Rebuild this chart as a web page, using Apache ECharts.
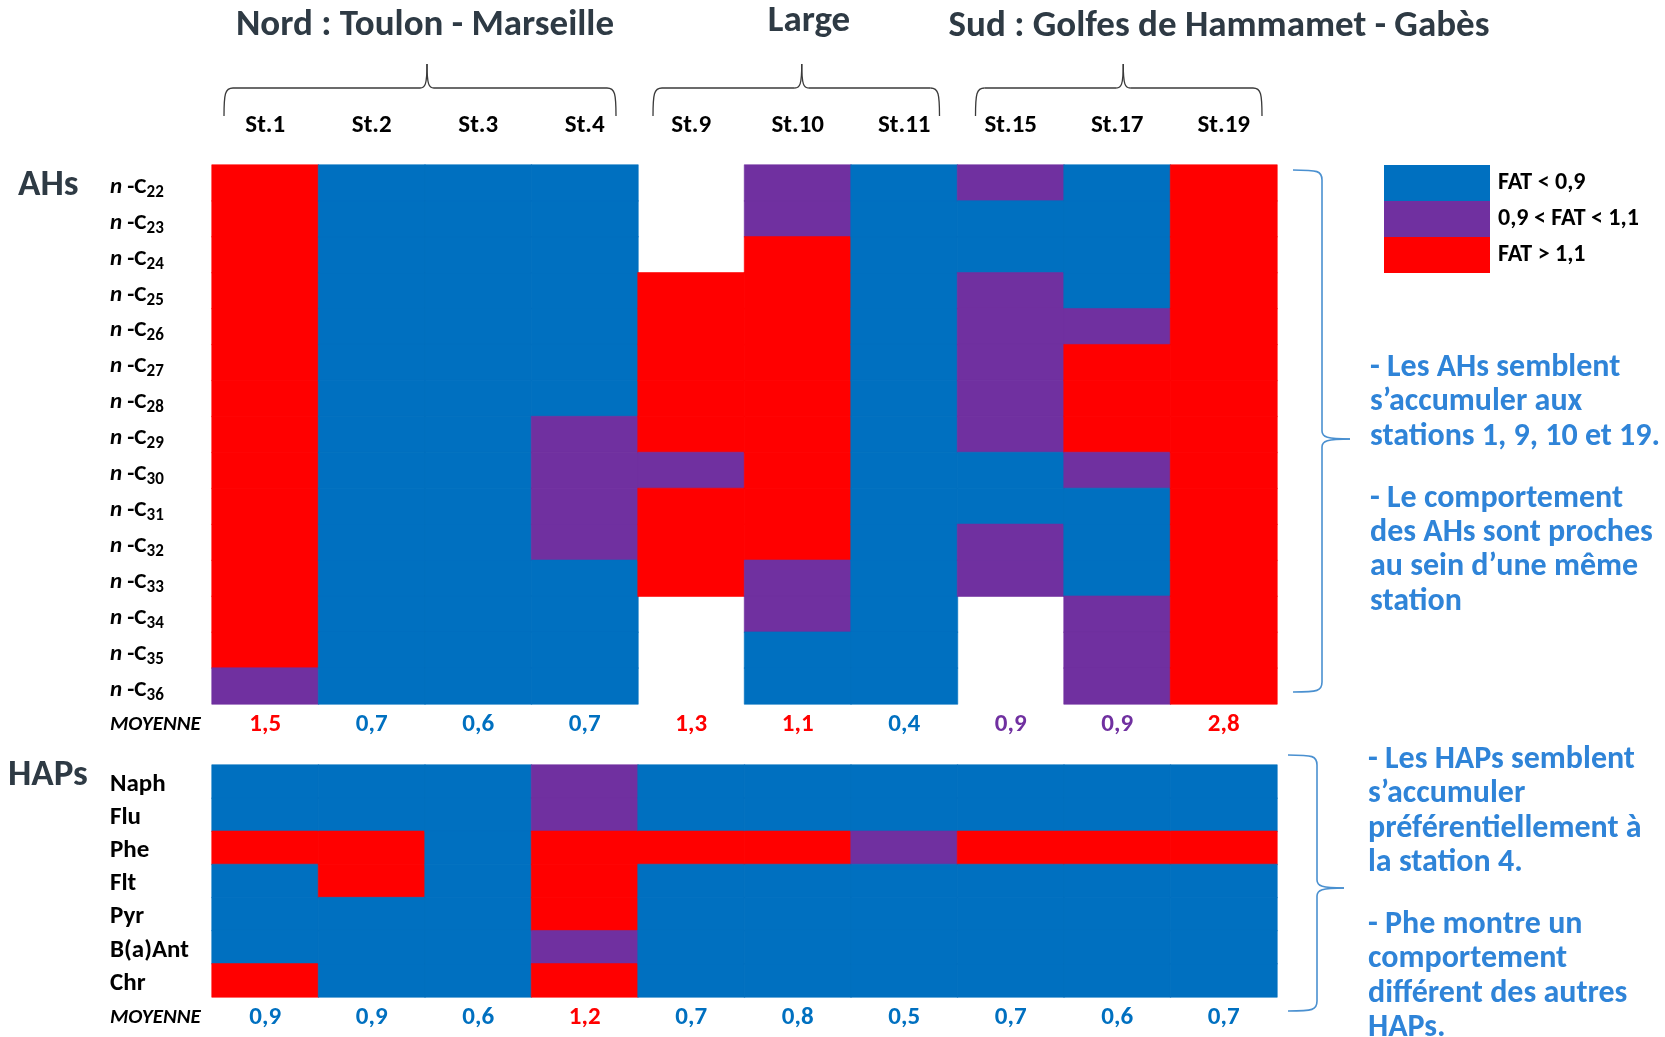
<!DOCTYPE html>
<html>
<head>
<meta charset="utf-8">
<script src="https://cdn.jsdelivr.net/npm/echarts@6/dist/echarts.min.js"></script>
<style>
html,body{margin:0;padding:0;background:#fff;}
#c{width:1665px;height:1037px;}
</style>
</head>
<body>
<div id="c"></div>
<script>
// ---------- DATA ----------
const stations = ['St.1','St.2','St.3','St.4','St.9','St.10','St.11','St.15','St.17','St.19'];
const groupNames = ['Nord : Toulon - Marseille','Large','Sud : Golfes de Hammamet - Gabès'];
const groupFirst = [0,4,7];
const groupLast = [3,6,9];
const ahCompounds = ['n-C22','n-C23','n-C24','n-C25','n-C26','n-C27','n-C28','n-C29','n-C30','n-C31','n-C32','n-C33','n-C34','n-C35','n-C36'];
const hapCompounds = ['Naph','Flu','Phe','Flt','Pyr','B(a)Ant','Chr'];
// FAT class per station (0: FAT<0,9 ; 1: 0,9<FAT<1,1 ; 2: FAT>1,1 ; null: no data), rows top->bottom
const ahClass = [
  [2,2,2,2,2,2,2,2,2,2,2,2,2,2,1],                               // St.1
  [0,0,0,0,0,0,0,0,0,0,0,0,0,0,0],                               // St.2
  [0,0,0,0,0,0,0,0,0,0,0,0,0,0,0],                               // St.3
  [0,0,0,0,0,0,0,1,1,1,1,0,0,0,0],                               // St.4
  [null,null,null,2,2,2,2,2,1,2,2,2,null,null,null],             // St.9
  [1,1,2,2,2,2,2,2,2,2,2,1,1,0,0],                               // St.10
  [0,0,0,0,0,0,0,0,0,0,0,0,0,0,0],                               // St.11
  [1,0,0,1,1,1,1,1,0,0,1,1,null,null,null],                      // St.15
  [0,0,0,0,1,2,2,2,1,0,0,0,1,1,1],                               // St.17
  [2,2,2,2,2,2,2,2,2,2,2,2,2,2,2]                                // St.19
];
const hapClass = [
  [0,0,2,0,0,0,2],  // St.1
  [0,0,2,2,0,0,0],  // St.2
  [0,0,0,0,0,0,0],  // St.3
  [1,1,2,2,2,1,2],  // St.4
  [0,0,2,0,0,0,0],  // St.9
  [0,0,2,0,0,0,0],  // St.10
  [0,0,1,0,0,0,0],  // St.11
  [0,0,2,0,0,0,0],  // St.15
  [0,0,2,0,0,0,0],  // St.17
  [0,0,2,0,0,0,0]   // St.19
];
const ahMean = [1.5,0.7,0.6,0.7,1.3,1.1,0.4,0.9,0.9,2.8];
const ahMeanClass = [2,0,0,0,2,2,0,1,1,2];
const hapMean = [0.9,0.9,0.6,1.2,0.7,0.8,0.5,0.7,0.6,0.7];
const hapMeanClass = [0,0,0,2,0,0,0,0,0,0];
const classLabels = ['FAT < 0,9','0,9 < FAT < 1,1','FAT > 1,1'];
const ahNotes = ['- Les AHs semblent','s\u2019accumuler aux','stations 1, 9, 10 et 19.','','- Le comportement','des AHs sont proches','au sein d\u2019une même','station'];
const hapNotes = ['- Les HAPs semblent','s\u2019accumuler','préférentiellement à','la station 4.','','- Phe montre un','comportement','différent des autres','HAPs.'];

// ---------- STYLE / LAYOUT ----------
const FONT = 'Carlito, Lato, sans-serif';
const classColors = ['#0070C0','#7030A0','#FF0000'];
const TITLE_COLOR = '#2E3A44';
const NOTE_COLOR = '#2F84D8';
const BRACE_BLUE = '#4A90D0';
// brace insets [left,right] and tip shift per group; title anchor per group
const braceInset = [[12,22],[15,18],[18,15]];
const braceTipShift = [2,4,6];
const titlePos = [[425,26],[809,22],[1219,27]];

const G = {left:212, right:388};
const grids = [
  {left:G.left, right:G.right, top:165, height:539},
  {left:G.left, right:G.right, top:708, height:34},
  {left:G.left, right:G.right, top:765, height:232},
  {left:G.left, right:G.right, top:1001, height:34}
];

function cells(cls){
  const out=[];
  cls.forEach((col,x)=>col.forEach((v,y)=>{
    if(v!==null) out.push({value:[x,y,v], itemStyle:{borderColor:classColors[v], borderWidth:0.6}});
  }));
  return out;
}
function meanCells(vals, cls){
  return vals.map((v,i)=>({value:[i,0,v], label:{color:classColors[cls[i]]}}));
}
const fmtNum = v => v.toFixed(1).replace('.',',');

const hiddenX = idx => ({type:'category', gridIndex:idx, data:stations, show:false});
const labelY = (idx, data, extra) => Object.assign({
  type:'category', gridIndex:idx, data:data, inverse:true,
  axisLine:{show:false}, axisTick:{show:false}, splitLine:{show:false},
}, extra);

const chart = echarts.init(document.getElementById('c'), null, {renderer:'canvas'});

const option = {
  backgroundColor:'#fff',
  animation:false,
  textStyle:{fontFamily:FONT},
  grid: grids,
  xAxis: [
    {type:'category', gridIndex:0, data:stations, position:'top',
     axisLine:{show:false}, axisTick:{show:false},
     axisLabel:{margin:39, verticalAlign:'middle', fontSize:25, fontWeight:'bold', color:'#000', fontFamily:FONT}},
    hiddenX(1), hiddenX(2), hiddenX(3)
  ],
  yAxis: [
    labelY(0, ahCompounds, {axisLabel:{align:'left', margin:102, color:'#000', fontFamily:FONT, padding:[8,0,0,0],
      formatter: v => '{i|n}{d| -C}{s|' + v.slice(3) + '}',
      rich:{
        i:{fontStyle:'italic', fontWeight:'bold', fontSize:23, lineHeight:28, color:'#000', fontFamily:FONT},
        d:{fontWeight:'bold', fontSize:23, lineHeight:28, color:'#000', fontFamily:FONT},
        s:{fontWeight:'bold', fontSize:17, lineHeight:13, verticalAlign:'bottom', color:'#000', fontFamily:FONT}
      }}}),
    labelY(1, ['MOYENNE'], {axisLabel:{align:'left', margin:102, fontSize:21, fontStyle:'italic', fontWeight:'bold', color:'#000', fontFamily:FONT}}),
    labelY(2, hapCompounds, {axisLabel:{align:'left', margin:102, color:'#000', fontFamily:FONT, padding:[6,0,0,0],
      formatter: v => '{a|' + v + '}',
      rich:{a:{fontSize:25, fontWeight:'bold', lineHeight:30, color:'#000', fontFamily:FONT}}}}),
    labelY(3, ['MOYENNE'], {axisLabel:{align:'left', margin:102, fontSize:21, fontStyle:'italic', fontWeight:'bold', color:'#000', fontFamily:FONT}})
  ],
  visualMap: {
    type:'piecewise', seriesIndex:[0,2], dimension:2,
    pieces: classColors.map((c,i)=>({value:i, label:classLabels[i], color:c})),
    orient:'vertical', inverse:true, align:'left', left:1384, top:165, padding:0,
    itemWidth:106, itemHeight:36, itemGap:0, itemSymbol:'rect', textGap:8,
    selectedMode:false, hoverLink:false,
    textStyle:{fontSize:24, fontWeight:'bold', color:'#000', fontFamily:FONT}
  },
  series: [
    {type:'heatmap', xAxisIndex:0, yAxisIndex:0, data:cells(ahClass), emphasis:{disabled:true}},
    {type:'heatmap', xAxisIndex:1, yAxisIndex:1, data:meanCells(ahMean, ahMeanClass), emphasis:{disabled:true},
     itemStyle:{color:'rgba(0,0,0,0)'},
     label:{show:true, fontSize:25, fontWeight:'bold', fontFamily:FONT, formatter:p=>fmtNum(p.value[2])}},
    {type:'heatmap', xAxisIndex:2, yAxisIndex:2, data:cells(hapClass), emphasis:{disabled:true}},
    {type:'heatmap', xAxisIndex:3, yAxisIndex:3, data:meanCells(hapMean, hapMeanClass), emphasis:{disabled:true},
     itemStyle:{color:'rgba(0,0,0,0)'},
     label:{show:true, fontSize:25, fontWeight:'bold', fontFamily:FONT, formatter:p=>fmtNum(p.value[2])}}
  ]
};
chart.setOption(option);

// ---------- DECORATIONS (braces, titles, notes) ----------
const graphics = [];
// path: start [x,y], then segments: ['L',x,y] or ['C',c1x,c1y,c2x,c2y,x,y]
function addPath(start, segs, stroke, lw){
  let px = start[0], py = start[1];
  segs.forEach(s=>{
    if(s[0]==='L'){
      graphics.push({type:'line', silent:true, shape:{x1:px,y1:py,x2:s[1],y2:s[2]}, style:{stroke:stroke, lineWidth:lw}});
      px=s[1]; py=s[2];
    } else {
      graphics.push({type:'bezierCurve', silent:true,
        shape:{x1:px,y1:py,cpx1:s[1],cpy1:s[2],cpx2:s[3],cpy2:s[4],x2:s[5],y2:s[6]},
        style:{stroke:stroke, lineWidth:lw, fill:null}});
      px=s[5]; py=s[6];
    }
  });
}

const cx = i => chart.convertToPixel({xAxisIndex:0}, i);
const band = cx(1) - cx(0);

groupNames.forEach((name,k)=>{
  const x1 = cx(groupFirst[k]) - band/2 + braceInset[k][0];
  const x2 = cx(groupLast[k]) + band/2 - braceInset[k][1];
  const xm = (cx(groupFirst[k]) + cx(groupLast[k]))/2 + braceTipShift[k];
  const yE = 116, yL = 88, yT = 64;
  addPath([x1,yE], [['C',x1,yL+6,x1+1,yL,x1+9,yL], ['L',xm-7,yL], ['C',xm-2,yL,xm,yL-3,xm,yT]], '#3a3a3a', 1.3);
  addPath([xm,yT], [['C',xm,yL-3,xm+2,yL,xm+7,yL], ['L',x2-9,yL], ['C',x2-1,yL,x2,yL+6,x2,yE]], '#3a3a3a', 1.3);
  graphics.push({type:'text', x:titlePos[k][0], y:titlePos[k][1], silent:true,
    style:{text:name, fill:TITLE_COLOR, font:`bold 37px ${FONT}`, textAlign:'center', textVerticalAlign:'middle'}});
});

function rightBrace(xE, xL, xT, y1, yT, y2){
  addPath([xE,y1], [['C',xL-4,y1,xL,y1+1,xL,y1+10], ['L',xL,yT-8], ['C',xL,yT-2,xL+5,yT,xT,yT]], BRACE_BLUE, 1.6);
  addPath([xT,yT], [['C',xL+5,yT,xL,yT+2,xL,yT+8], ['L',xL,y2-10], ['C',xL,y2-1,xL-4,y2,xE,y2]], BRACE_BLUE, 1.6);
}
rightBrace(1293, 1322, 1350, 170, 439, 692);
rightBrace(1288, 1317, 1344, 755, 888, 1011);

graphics.push({type:'text', x:18, y:186, silent:true, style:{text:'AHs', fill:TITLE_COLOR, font:`bold 37px ${FONT}`, textVerticalAlign:'middle'}});
graphics.push({type:'text', x:8, y:776, silent:true, style:{text:'HAPs', fill:TITLE_COLOR, font:`bold 37px ${FONT}`, textVerticalAlign:'middle'}});

function notes(lines, x, y0, step, gapStep){
  let y = y0;
  lines.forEach(t=>{
    if(t===''){ y += gapStep - step; return; }
    graphics.push({type:'text', x:x, y:y, silent:true, style:{text:t, fill:NOTE_COLOR, font:`bold 32px ${FONT}`, textVerticalAlign:'middle'}});
    y += step;
  });
}
notes(ahNotes, 1370, 368, 34.3, 62);
notes(hapNotes, 1368, 760, 34.3, 62);

chart.setOption({graphic:{elements:graphics}});
</script>
</body>
</html>
